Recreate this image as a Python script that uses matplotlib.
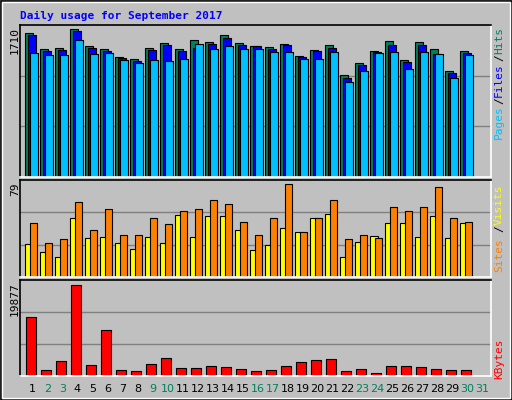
import matplotlib
matplotlib.use("Agg")
import matplotlib.pyplot as plt
from matplotlib.patches import Rectangle
import numpy as np

days = list(range(1, 32))
hits = [1664,1478,1490,1710,1509,1478,1385,1362,1490,1548,1478,1583,1560,1641,1548,1513,1501,1536,1397,1467,1525,1176,1316,1455,1571,1350,1560,1478,1223,1455,0]
files = [1641,1455,1467,1687,1490,1455,1374,1339,1467,1525,1455,1490,1536,1606,1525,1513,1478,1525,1385,1455,1490,1141,1292,1443,1525,1327,1525,1420,1199,1432,0]
pages = [1432,1408,1408,1583,1420,1432,1350,1316,1350,1339,1362,1536,1478,1513,1478,1478,1443,1443,1362,1362,1443,1095,1223,1432,1443,1246,1443,1420,1141,1408,0]
sites = [28,21,17,50,33,34,29,24,34,29,53,34,52,52,40,23,27,42,38,50,54,17,30,35,46,46,34,52,33,46,0]
visits = [46,29,32,64,40,58,36,36,50,45,56,58,66,62,47,36,50,79,38,50,66,32,36,33,60,56,60,77,50,47,0]
kbytes = [12900,1380,3340,19877,2470,10080,1380,1160,2680,3990,1810,1810,2250,2030,1600,1160,1380,2250,3120,3550,3770,1160,1600,725,2250,2250,2030,1600,1380,1380,0]
weekend = [2,3,9,10,16,17,23,24,30,31]

W, H = 512, 400
fig = plt.figure(figsize=(W/100, H/100), dpi=100)
fig.patch.set_facecolor('#C0C0C0')

def rect(x0, y0, x1, y1):
    return [x0/W, 1-y1/H, (x1-x0)/W, (y1-y0)/H]

fig.patches.append(Rectangle((0.5/W, 0.5/H), 1-1/W, 1-1/H, transform=fig.transFigure,
                             fill=False, ec='black', lw=1.2))
fig.patches.append(Rectangle((2/W, 2/H), 1-4/W, 1-4/H, transform=fig.transFigure,
                             fill=False, ec='white', lw=1))

fig.text(20/W, 1-16/H, "Daily usage for September 2017", color='#0000FF',
         family='DejaVu Sans Mono', weight='bold', fontsize=8, va='center', ha='left')

xl = (-5/15, 471/15 - 5/15)
def mkax(y0, y1, ymax):
    ax = fig.add_axes(rect(20, y0, 491, y1))
    ax.set_facecolor('#C0C0C0')
    ax.set_xlim(*xl); ax.set_ylim(0, ymax)
    for s in ax.spines.values():
        s.set_color('white'); s.set_linewidth(1.2)
    ax.spines['left'].set_color('black'); ax.spines['top'].set_color('black')
    ax.set_xticks([]); ax.set_yticks([])
    for f in (1/3, 2/3):
        ax.axhline(ymax*f, color='#808080', lw=1, zorder=0)
    return ax

x = np.arange(31)
ax1 = mkax(25, 177, 1756)
ax1.bar(x[:30], hits[:30], width=0.5, align='edge', color='#00805C', ec='black', lw=0.8)
ax1.bar(x[:30]+0.2, files[:30], width=0.5, align='edge', color='#0000FF', ec='black', lw=0.8)
ax1.bar(x[:30]+0.35, pages[:30], width=0.5, align='edge', color='#00C0FF', ec='black', lw=0.8)

ax2 = mkax(180, 277, 82.7)
ax2.bar(x[:30], sites[:30], width=0.5, align='edge', color='#FFFF00', ec='black', lw=0.8)
ax2.bar(x[:30]+0.3, visits[:30], width=0.5, align='edge', color='#FF8000', ec='black', lw=0.8)

ax3 = mkax(280, 376, 20900)
ax3.bar(x[:30]+0.07, kbytes[:30], width=0.66, align='edge', color='#FF0000', ec='black', lw=0.8)

for xp, yp, t in [(15, 27, "1710"), (15, 182, "79"), (15, 282, "19877")]:
    fig.text(xp/W, 1-yp/H, t, rotation=90, ha='center', va='top', fontsize=8,
             family='DejaVu Sans Mono', color='black')

def rlab(parts):
    for yc, t, c in parts:
        fig.text(499/W, 1-yc/H, t, rotation=90, ha='center', va='center', fontsize=8,
                 family='DejaVu Sans Mono', color=c)
rlab([(41, "Hits", '#00805C'), (58, "/", 'black'), (80, "Files", '#0000FF'),
      (101, "/", 'black'), (122, "Pages", '#00C0FF')])
rlab([(205, "Visits", '#FFFF00'), (229, "/", 'black'), (255, "Sites", '#FF8000')])
rlab([(359, "KBytes", '#FF0000')])

for d in days:
    xp = 25 + (d-1)*15 + 7.5
    fig.text(xp/W, 1-389/H, str(d), ha='center', va='center', fontsize=8,
             color='#00805C' if d in weekend else 'black')

fig.savefig('out.png', dpi=100, facecolor=fig.get_facecolor())
